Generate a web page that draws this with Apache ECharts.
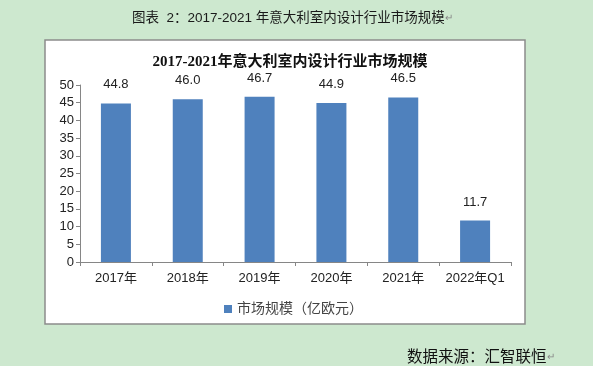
<!DOCTYPE html>
<html>
<head>
<meta charset="utf-8">
<script src="https://cdn.jsdelivr.net/npm/echarts@6/dist/echarts.min.js"></script>
<style>
  html, body { margin: 0; padding: 0; background: #cde8cf; }
  #chartBox { width: 593px; height: 366px; }
</style>
</head>
<body>
<div id="chartBox"></div>
<script>
// 数据
var categories = ['2017年', '2018年', '2019年', '2020年', '2021年', '2022年Q1']
var marketSize = [44.8, 46.0, 46.7, 44.9, 46.5, 11.7] // 市场规模（亿欧元）
var seriesName = '市场规模（亿欧元）'

var myChart = echarts.init(document.getElementById('chartBox'))
myChart.setOption({
  backgroundColor: '#cde8cf',
  textStyle: { fontFamily: '"Liberation Sans", "Noto Sans CJK SC", sans-serif' },
  graphic: [{
    type: 'rect',
    z: -10,
    shape: { x: 45, y: 40, width: 480, height: 284 },
    style: { fill: '#ffffff', stroke: '#8c8c8c', lineWidth: 1.5 }
  }],
  title: [{
    text: '图表  2：2017-2021 年意大利室内设计行业市场规模{r|↵}',
    left: 127,
    top: 7,
    textStyle: {
      fontSize: 13.5,
      fontWeight: 'normal',
      color: '#1a1a1a',
      fontFamily: '"Liberation Sans", "Noto Sans CJK SC", sans-serif',
      rich: { r: { fontSize: 10, color: '#888' } }
    }
  }, {
    text: '2017-2021年意大利室内设计行业市场规模',
    left: 285,
    textAlign: 'center',
    top: 50,
    textStyle: {
      fontSize: 15,
      fontWeight: 'bold',
      color: '#111',
      fontFamily: '"Liberation Serif", "Noto Sans CJK SC", serif'
    }
  }, {
    text: '数据来源：汇智联恒{r|↵}',
    left: 402,
    top: 343,
    textStyle: {
      fontSize: 15.5,
      fontWeight: 'normal',
      color: '#111',
      fontFamily: '"Noto Sans CJK SC", sans-serif',
      rich: { r: { fontSize: 10, color: '#888' } }
    }
  }],
  legend: {
    data: [seriesName],
    icon: 'rect',
    left: 219,
    top: 297,
    itemWidth: 8,
    itemHeight: 8,
    itemGap: 3,
    textStyle: { fontSize: 14, color: '#444' }
  },
  grid: {
    left: 80,
    right: 82,
    top: 85,
    bottom: 104
  },
  xAxis: {
    type: 'category',
    data: categories,
    axisLine: { lineStyle: { color: '#868686' } },
    axisTick: { show: true, length: 4, lineStyle: { color: '#868686' } },
    axisLabel: { fontSize: 13, color: '#222', margin: 10, interval: 0 }
  },
  yAxis: {
    type: 'value',
    min: 0,
    max: 50,
    interval: 5,
    splitLine: { show: false },
    axisLine: { show: true, lineStyle: { color: '#868686' } },
    axisTick: { show: true, length: 4, lineStyle: { color: '#868686' } },
    axisLabel: { fontSize: 13, color: '#222', margin: 6 }
  },
  series: [{
    name: seriesName,
    type: 'bar',
    barWidth: 30,
    data: marketSize,
    itemStyle: { color: '#4f81bd' },
    label: {
      show: true,
      position: 'top',
      distance: 12,
      fontSize: 13,
      color: '#222',
      formatter: function (p) { return p.value.toFixed(1) }
    }
  }]
})
</script>
</body>
</html>
